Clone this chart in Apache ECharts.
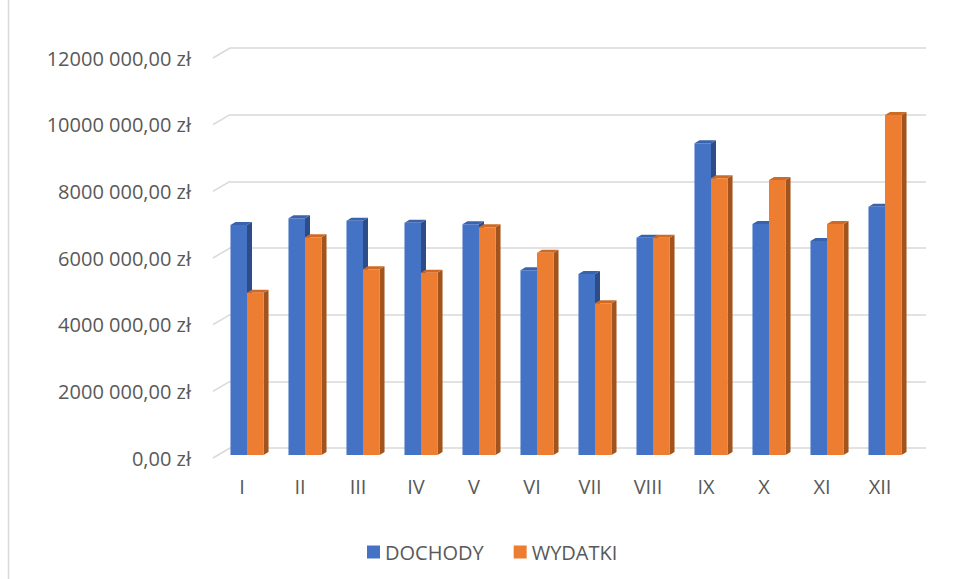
<!DOCTYPE html>
<html>
<head>
<meta charset="utf-8">
<script src="https://cdn.jsdelivr.net/npm/echarts@6/dist/echarts.min.js"></script>
<style>
  html, body { margin: 0; padding: 0; background: #fff; }
  #chart { width: 958px; height: 579px; }
</style>
</head>
<body>
<div id="chart"></div>
<script>
// months and monthly values (zł)
var months = ['I', 'II', 'III', 'IV', 'V', 'VI', 'VII', 'VIII', 'IX', 'X', 'XI', 'XII'];
var dochody = [6900000, 7100000, 7030000, 6970000, 6920000, 5540000, 5430000, 6520000, 9350000, 6930000, 6420000, 7450000];
var wydatki = [4870000, 6530000, 5570000, 5470000, 6830000, 6070000, 4550000, 6520000, 8300000, 8250000, 6930000, 10200000];
var yTicks = [0, 2000000, 4000000, 6000000, 8000000, 10000000, 12000000];

var chart = echarts.init(document.getElementById('chart'), null, { renderer: 'svg' });

var textColor = '#595959';
var gridColor = '#d9d9d9';
var font = 'Open Sans';

// depth of the floor (front edge -> back wall) and of a single bar
var wallDx = 17, wallDy = -10;
var planeDx = 5, planeDy = -3;
var barDx = 5, barDy = -3;

function fmtZl(v) {
  if (v === 0) return '0,00 zł';
  var th = Math.floor(v / 1000);
  var rest = String(v % 1000);
  while (rest.length < 3) rest = '0' + rest;
  return th + ' ' + rest + ',00 zł';
}

function barRenderer(side, front, top, sideColor) {
  return function(params, api) {
    var c = api.coord([api.value(0), api.value(1)]);
    var b = api.coord([api.value(0), 0]);
    var band = api.size([1, 0])[0];
    var bw = band * 0.285;
    var x0 = side < 0 ? c[0] + planeDx - bw : c[0] + planeDx;
    var x1 = x0 + bw;
    var yt = c[1] + planeDy;
    var yb = b[1] + planeDy;
    return {
      type: 'group',
      children: [
        { type: 'polygon', shape: { points: [[x1, yt], [x1 + barDx, yt + barDy], [x1 + barDx, yb + barDy], [x1, yb]] }, style: { fill: sideColor } },
        { type: 'polygon', shape: { points: [[x0, yt], [x1, yt], [x1 + barDx, yt + barDy], [x0 + barDx, yt + barDy]] }, style: { fill: top } },
        { type: 'rect', shape: { x: x0, y: yt, width: bw, height: yb - yt }, style: { fill: front } }
      ]
    };
  };
}

chart.setOption({
  animation: false,
  backgroundColor: '#fff',
  graphic: [{
    type: 'line',
    shape: { x1: 8.5, y1: 0, x2: 8.5, y2: 579 },
    style: { stroke: gridColor, lineWidth: 1.5 }
  }],
  legend: {
    data: ['DOCHODY', 'WYDATKI'],
    left: 362,
    top: 537,
    itemWidth: 13,
    itemHeight: 13,
    itemGap: 30,
    icon: 'rect',
    textStyle: { color: textColor, fontSize: 20, fontFamily: font }
  },
  grid: [
    { left: 213, right: 49, top: 58, bottom: 121 },
    { left: 230, right: 32, top: 48, bottom: 131 }
  ],
  xAxis: [
    {
      type: 'category', gridIndex: 0, data: months,
      axisLine: { show: false }, axisTick: { show: false },
      axisLabel: { color: textColor, fontSize: 20, fontFamily: font, margin: 18 }
    },
    {
      type: 'category', gridIndex: 1, data: months,
      axisLine: { show: false }, axisTick: { show: false }, axisLabel: { show: false }
    }
  ],
  yAxis: [
    {
      type: 'value', gridIndex: 0, min: 0, max: 12000000, interval: 2000000,
      axisLine: { show: false }, axisTick: { show: false }, splitLine: { show: false },
      axisLabel: { color: textColor, fontSize: 20, fontFamily: font, margin: 22, formatter: fmtZl }
    },
    {
      type: 'value', gridIndex: 1, min: 0, max: 12000000, interval: 2000000,
      axisLine: { show: false }, axisTick: { show: false }, axisLabel: { show: false },
      splitLine: { lineStyle: { color: gridColor, width: 1.5 } }
    }
  ],
  series: [
    {
      // slanted part of each gridline, from the front edge to the back wall
      type: 'custom',
      xAxisIndex: 0, yAxisIndex: 0,
      silent: true,
      data: yTicks.map(function(v) { return [0, v]; }),
      renderItem: function(params, api) {
        var p = api.coord([0, api.value(1)]);
        var x = params.coordSys.x;
        return {
          type: 'line',
          shape: { x1: x, y1: p[1], x2: x + wallDx, y2: p[1] + wallDy },
          style: { stroke: gridColor, lineWidth: 1.5 }
        };
      }
    },
    {
      name: 'DOCHODY',
      type: 'custom',
      xAxisIndex: 0, yAxisIndex: 0,
      itemStyle: { color: '#4472c4' },
      data: dochody.map(function(v, i) { return [i, v]; }),
      renderItem: barRenderer(-1, '#4472c4', '#3a63ad', '#2c4d87')
    },
    {
      name: 'WYDATKI',
      type: 'custom',
      xAxisIndex: 0, yAxisIndex: 0,
      itemStyle: { color: '#ed7d31' },
      data: wydatki.map(function(v, i) { return [i, v]; }),
      renderItem: barRenderer(1, '#ed7d31', '#cf6a24', '#a3531c')
    }
  ]
});
window.addEventListener('resize', function() { chart.resize(); });
</script>
</body>
</html>
